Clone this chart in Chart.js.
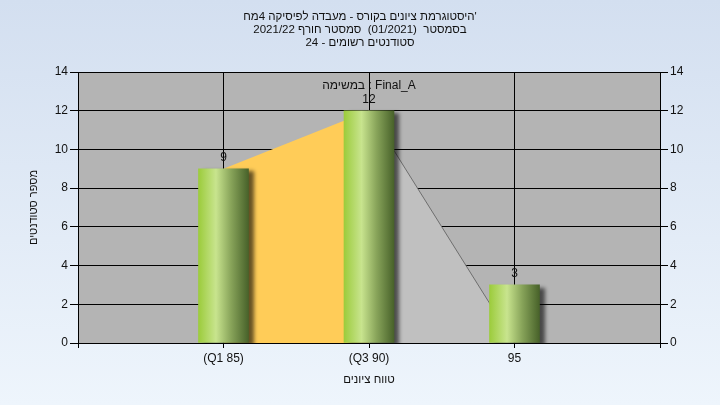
<!DOCTYPE html>
<html>
<head>
<meta charset="utf-8">
<script src="https://cdn.jsdelivr.net/npm/chart.js@4.4.1/dist/chart.umd.min.js"></script>
<style>
  html, body { margin: 0; padding: 0; }
  body { width: 720px; height: 405px; background: linear-gradient(to bottom, #d3dff0, #eef5fc); }
  canvas { display: block; }
</style>
</head>
<body>
<canvas id="grafica" width="720" height="405"></canvas>
<script>
// chart data
const categories = ['', '(Q1 85)', '(Q3 90)', '95', ''];
const counts = [null, 9, 12, 3, null];
const q1q3Area = [null, 9, 12, null, null];
const upperArea = [null, null, 12, 0, null];
const titleLines = [
    "היסטוגרמת ציונים בקורס - מעבדה לפיסיקה 4מח'",
    "בסמסטר  (01/2021)  סמסטר חורף 2021/22",
    "סטודנטים רשומים - 24"
];
const taskLabel = "במשימה : Final_A";
const xTitle = "טווח ציונים";
const yTitle = "מספר סטודנטים";

const fontFamily = "'Liberation Sans', Arial, 'DejaVu Sans', sans-serif";
const textColor = '#111111';

// green cylinder look for the bars
function barGradient(context) {
    const chart = context.chart;
    if (!chart.chartArea || context.dataIndex === undefined) return '#a0d040';
    const x = chart.scales.x.getPixelForValue(context.dataIndex);
    const g = chart.ctx.createLinearGradient(x - 25, 0, x + 25, 0);
    g.addColorStop(0, '#9ccc3c');
    g.addColorStop(0.35, '#c8e48e');
    g.addColorStop(0.65, '#88a45a');
    g.addColorStop(1, '#48622a');
    return g;
}

const plotBackground = {
    id: 'plotBackground',
    beforeDraw(chart) {
        const a = chart.chartArea;
        const ctx = chart.ctx;
        ctx.save();
        ctx.fillStyle = '#b4b4b4';
        ctx.fillRect(a.left, a.top, a.right - a.left, a.bottom - a.top);
        ctx.restore();
    }
};

const barShadow = {
    id: 'barShadow',
    beforeDatasetDraw(chart, args) {
        if (args.index !== 0) return;
        const ctx = chart.ctx;
        ctx.save();
        ctx.shadowColor = 'rgba(0,0,0,0.6)';
        ctx.shadowOffsetX = 5;
        ctx.shadowOffsetY = 3;
        ctx.shadowBlur = 4;
    },
    afterDatasetDraw(chart, args) {
        if (args.index !== 0) return;
        chart.ctx.restore();
    }
};

const valueLabels = {
    id: 'valueLabels',
    afterDatasetsDraw(chart) {
        const ctx = chart.ctx;
        const meta = chart.getDatasetMeta(0);
        ctx.save();
        ctx.font = '12px ' + fontFamily;
        ctx.fillStyle = textColor;
        ctx.textAlign = 'center';
        ctx.textBaseline = 'bottom';
        meta.data.forEach(function(el, i) {
            const v = counts[i];
            if (v === null) return;
            ctx.fillText(String(v), el.x, el.y - 5);
        });
        const a = chart.chartArea;
        ctx.textBaseline = 'middle';
        ctx.fillText(taskLabel, (a.left + a.right) / 2, a.top + 14);
        ctx.restore();
    }
};

const ctx = document.getElementById('grafica').getContext('2d');
const chart = new Chart(ctx, {
    type: 'bar',
    data: {
        labels: categories,
        datasets: [
            {
                label: 'counts',
                data: counts,
                backgroundColor: barGradient,
                borderWidth: 0,
                barThickness: 50,
                order: 0
            },
            {
                type: 'line',
                label: 'q1q3',
                data: q1q3Area,
                backgroundColor: '#ffcc58',
                borderWidth: 0,
                pointRadius: 0,
                fill: 'origin',
                tension: 0,
                order: 1
            },
            {
                type: 'line',
                label: 'upper',
                data: upperArea,
                backgroundColor: '#c0c0c0',
                borderColor: '#6e6e6e',
                borderWidth: 1,
                pointRadius: 0,
                fill: 'origin',
                tension: 0,
                order: 2
            }
        ]
    },
    options: {
        animation: false,
        responsive: false,
        maintainAspectRatio: false,
        layout: { padding: 0 },
        plugins: {
            legend: { display: false },
            tooltip: { enabled: false },
            title: {
                display: true,
                text: titleLines,
                color: textColor,
                font: { family: fontFamily, size: 11.5, weight: 'normal', lineHeight: '13px' },
                padding: { top: 10, bottom: 23 }
            }
        },
        scales: {
            x: {
                offset: false,
                grid: { offset: false, color: '#000000', tickLength: 5, lineWidth: 1 },
                border: { color: '#000000' },
                ticks: {
                    autoSkip: false,
                    maxRotation: 0,
                    padding: 3,
                    color: textColor,
                    font: { family: fontFamily, size: 12 }
                },
                title: {
                    display: true,
                    text: xTitle,
                    color: textColor,
                    font: { family: fontFamily, size: 11.5 },
                    padding: { top: 0, bottom: 18 }
                },
                afterFit: function(scale) { scale.height = 62; }
            },
            y: {
                position: 'left',
                min: 0,
                max: 14,
                ticks: {
                    stepSize: 2,
                    padding: 2,
                    color: textColor,
                    font: { family: fontFamily, size: 12 }
                },
                grid: { color: '#000000', tickLength: 8 },
                border: { color: '#000000' },
                title: {
                    display: true,
                    text: yTitle,
                    color: textColor,
                    font: { family: fontFamily, size: 11 },
                    padding: { top: 27, bottom: 0 }
                },
                afterFit: function(scale) { scale.width = 78; }
            },
            y1: {
                position: 'right',
                min: 0,
                max: 14,
                ticks: {
                    stepSize: 2,
                    padding: 2,
                    color: textColor,
                    font: { family: fontFamily, size: 12 }
                },
                grid: { drawOnChartArea: false, color: '#000000', tickLength: 8 },
                border: { color: '#000000' },
                afterFit: function(scale) { scale.width = 60; }
            }
        }
    },
    plugins: [plotBackground, barShadow, valueLabels]
});
</script>
</body>
</html>
